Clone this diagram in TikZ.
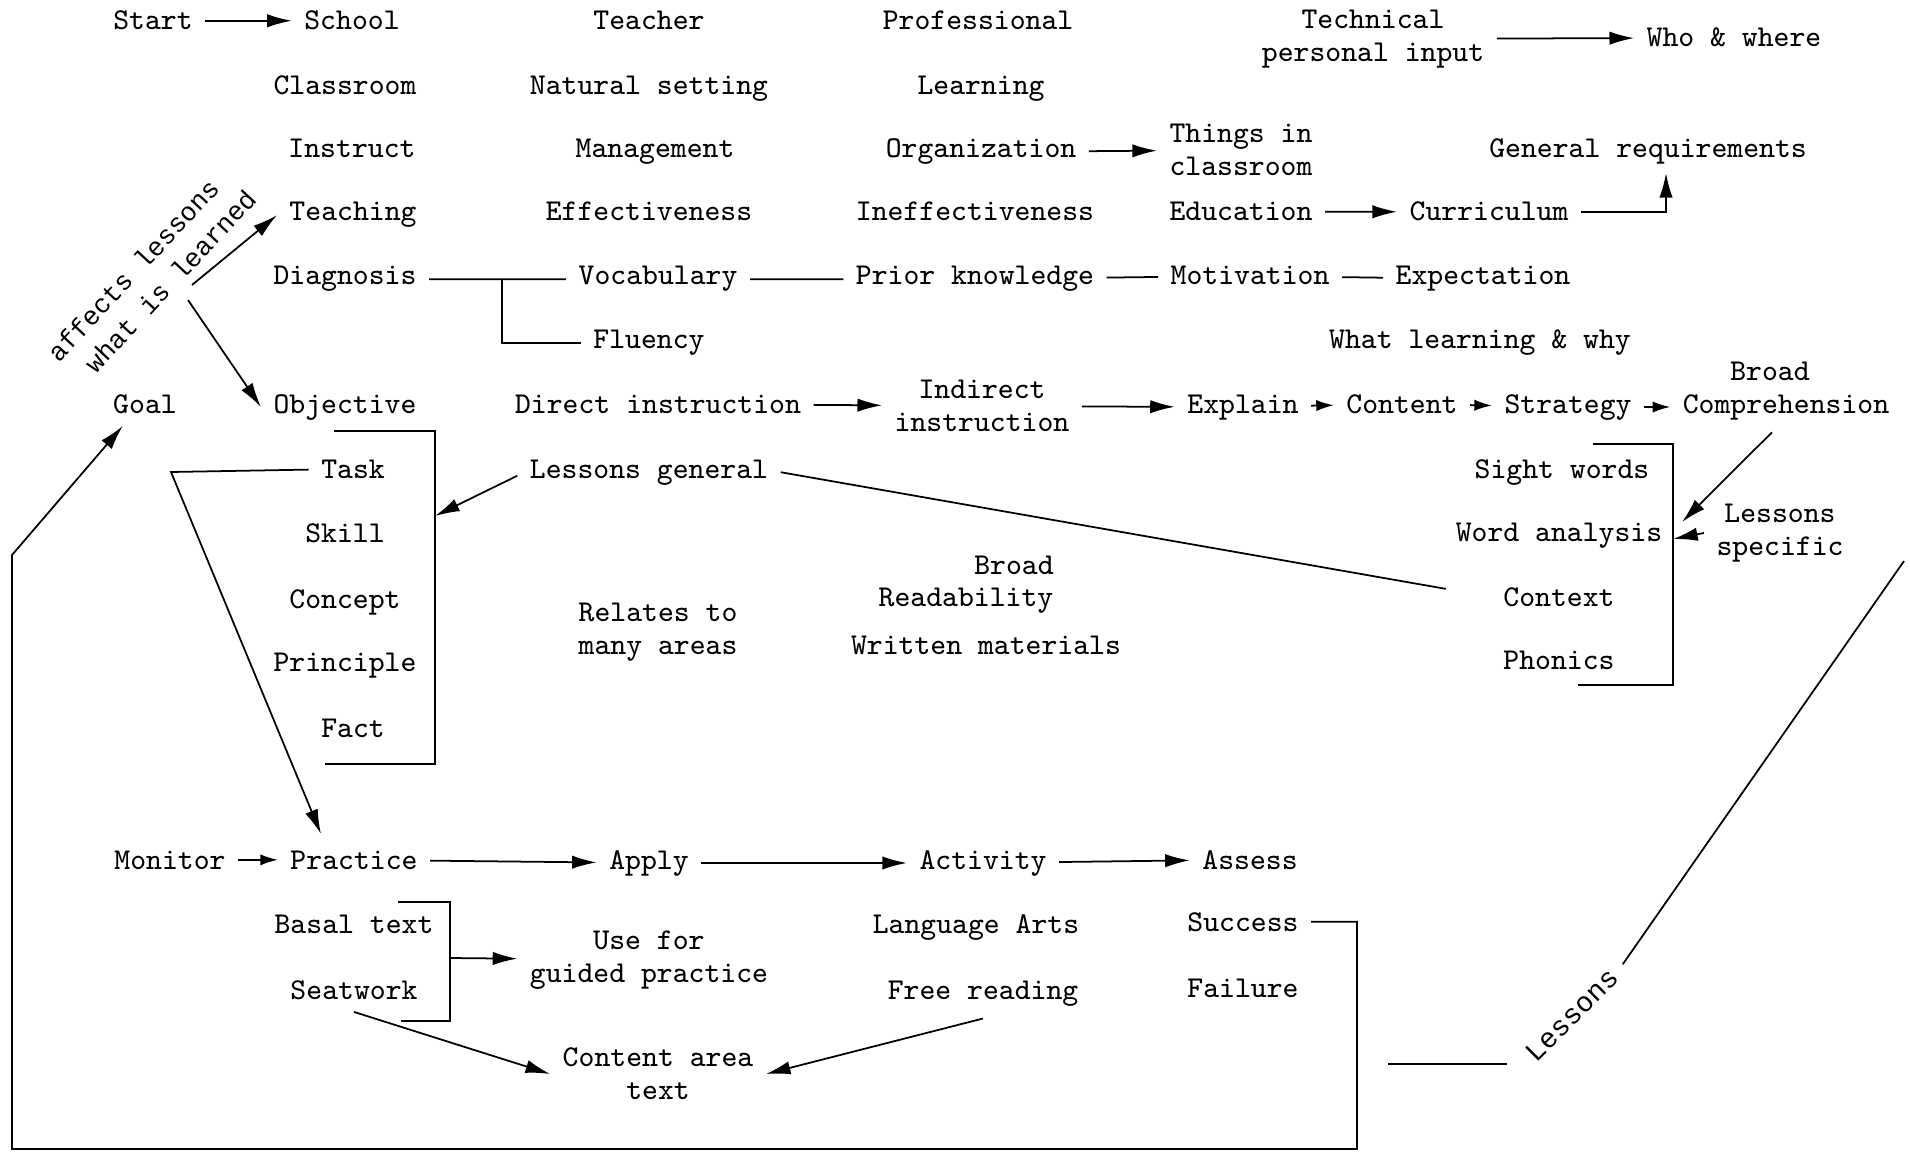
\documentclass[tikz,border=0pt]{standalone}
\usepackage{fontspec}
\newfontfamily\slantfont{Liberation Mono}
\usetikzlibrary{arrows.meta}
\begin{document}
\begin{tikzpicture}[x=0.01cm,y=-0.01cm,
    every node/.style={font=\ttfamily\fontsize{8.6}{9.3}\selectfont,anchor=base,align=center},
    every path/.style={line width=0.5pt},
    arr/.style={-{Latex[length=7pt,width=3.8pt]}},
    sarr/.style={-{Latex[length=5pt,width=3.2pt]}},
    twoline/.style={anchor=center},
    rot/.style={font=\slantfont\fontsize{7.5}{8.6}\selectfont,anchor=center,rotate=47}]
  \useasboundingbox (0,0) rectangle (1910,1152);
        %% top rows
        \node (start) at (153,30) {Start};
        \node (school) at (352,30) {School};
        \node (teacher) at (649,30) {Teacher};
        \node (prof) at (978,30) {Professional};
        \node[twoline] (techin) at (1373,39) {Technical\\personal input};
        \node (who) at (1734,47) {Who \& where};
        \node (classroom) at (345,95) {Classroom};
        \node (natural) at (649,95) {Natural setting};
        \node (learning) at (981,95) {Learning};
        \node (instruct) at (352,158) {Instruct};
        \node (management) at (655,158) {Management};
        \node (organization) at (981,158) {Organization};
        \node[twoline,align=left] (things) at (1241,150) {Things in\\classroom};
        \node (genreq) at (1648,158) {General requirements};
        \node (teaching) at (353,221) {Teaching};
        \node (effect) at (649,221) {Effectiveness};
        \node (ineffect) at (975,221) {Ineffectiveness};
        \node (education) at (1241,221) {Education};
        \node (curriculum) at (1489,221) {Curriculum};
        \node (diagnosis) at (345,285) {Diagnosis};
        \node (vocab) at (658,285) {Vocabulary};
        \node (prior) at (975,285) {Prior knowledge};
        \node (motivation) at (1250,285) {Motivation};
        \node (expectation) at (1483,285) {Expectation};
        \node (fluency) at (649,349) {Fluency};
        \node (whatwhy) at (1480,348) {What learning \& why};
        %% objective row
        \node (goal) at (145,413) {Goal};
        \node (objective) at (345,413) {Objective};
        \node (direct) at (658,413) {Direct instruction};
        \node[twoline] (indirect) at (982,406) {Indirect\\instruction};
        \node (explain) at (1243,413) {Explain};
        \node (content) at (1402,413) {Content};
        \node (strategy) at (1568,413) {Strategy};
        \node (broad) at (1770,380) {Broad};
        \node (compre) at (1786,413) {Comprehension};
        %% lists
        \node (task) at (353,478) {Task};
        \node (lessgen) at (649,478) {Lessons general};
        \node (sight) at (1562,478) {Sight words};
        \node (skill) at (345,542) {Skill};
        \node (wordan) at (1559,541) {Word analysis};
        \node[twoline] (lessspec) at (1780,533) {Lessons\\specific};
        \node (concept) at (345,608) {Concept};
        \node (context) at (1559,606) {Context};
        \node[twoline] (relates) at (658,632) {Relates to\\many areas};
        \node (broadr) at (1014,574) {Broad};
        \node (readab) at (966,606) {Readability};
        \node (written) at (986,654) {Written materials};
        \node (principle) at (345,671) {Principle};
        \node (phonics) at (1559,669) {Phonics};
        \node (fact) at (353,737) {Fact};
        %% practice rows
        \node (monitor) at (170,869) {Monitor};
        \node (practice) at (354,869) {Practice};
        \node (apply) at (649,869) {Apply};
        \node (activity) at (983,869) {Activity};
        \node (assess) at (1250,869) {Assess};
        \node (basal) at (354,933) {Basal text};
        \node[twoline] (usefor) at (649,960) {Use for\\guided practice};
        \node (langarts) at (976,933) {Language Arts};
        \node (success) at (1243,931) {Success};
        \node (seatwork) at (354,999) {Seatwork};
        \node (freeread) at (983,999) {Free reading};
        \node (failure) at (1243,997) {Failure};
        \node[twoline] (contentarea) at (658,1074) {Content area\\text};
        %% slanted labels
        \node[rot] (affects) at (133,270) {affects lessons};
        \node[rot] (whatis) at (170,281) {what is learned};
        \node[rot,rotate=-2,font=\slantfont\fontsize{8}{9}\selectfont] (lessons) at (1572,1015) {Lessons};
        %% free ends
        \coordinate (genarrow) at (1666,173);
        \coordinate (diagfork) at (502,280);
        \coordinate (affA) at (192,285);
        \coordinate (affB) at (188,300);
        \coordinate (leftup) at (12,555);
        \coordinate (loopL) at (12,1149);
        \coordinate (loopR) at (1357,1149);
        \coordinate (brLa) at (334,431);
        \coordinate (brLb) at (435,431);
        \coordinate (brLc) at (435,764);
        \coordinate (brLd) at (325,764);
        \coordinate (brLtip) at (435,516);
        \coordinate (taskL) at (171,472);
        \coordinate (practop) at (321,834);
        \coordinate (brRa) at (1593,444);
        \coordinate (brRb) at (1673,444);
        \coordinate (brRc) at (1673,685);
        \coordinate (brRd) at (1578,685);
        \coordinate (compTip) at (1682,522);
        \coordinate (specTip) at (1673,539);
        \coordinate (bbA) at (398,902);
        \coordinate (bbB) at (450,902);
        \coordinate (bbC) at (450,1021);
        \coordinate (bbD) at (401,1021);
        \coordinate (bbM) at (450,958);
        \coordinate (shortL) at (1388,1064);
        \coordinate (topR) at (1904,561);
        %% connectors
        \draw[arr] (start) -- (school);
        \draw[arr] (techin) -- (who);
        \draw[arr] (organization) -- (things);
        \draw[arr] (education) -- (curriculum);
        \draw[arr] (curriculum) -| (genarrow);
        \draw (diagnosis) -- (vocab);
        \draw (diagfork) |- (fluency);
        \draw (vocab) -- (prior);
        \draw (prior) -- (motivation);
        \draw (motivation) -- (expectation);
        \draw[arr] (affA) -- (teaching.west);
        \draw[arr] (affB) -- (objective.west);
        \draw[arr] (success) -| (loopR) -- (loopL) -- (leftup) -- (goal.225);
        \draw[arr] (direct) -- (indirect);
        \draw[arr] (indirect) -- (explain);
        \draw[sarr] (explain) -- (content);
        \draw[sarr] (content) -- (strategy);
        \draw[sarr] (strategy) -- (compre);
        \draw (brLa) -- (brLb) -- (brLc) -- (brLd);
        \draw[arr] ([yshift=-1pt]lessgen.west) -- (brLtip);
        \draw[arr] (task) -- (taskL) -- (practop);
        \draw[shorten >=13pt] (lessgen.east) -- (context.west);
        \draw (brRa) -- (brRb) -- (brRc) -- (brRd);
        \draw[arr] ([xshift=-4pt]compre.south) -- (compTip);
        \draw[arr] (lessspec.west) -- (specTip);
        \draw[sarr] (monitor) -- (practice);
        \draw[arr] (practice) -- (apply);
        \draw[arr] (apply) -- (activity);
        \draw[arr] (activity) -- (assess);
        \draw (bbA) -- (bbB) -- (bbC) -- (bbD);
        \draw[arr] (bbM) -- (usefor);
        \draw[arr] (seatwork.south) -- (contentarea.west);
        \draw[arr] (freeread.south) -- (contentarea.east);
        \draw[shorten >=4pt] (shortL) -- (shortL -| lessons.west);
        \draw (lessons.east) -- (topR);
\end{tikzpicture}
\end{document}
